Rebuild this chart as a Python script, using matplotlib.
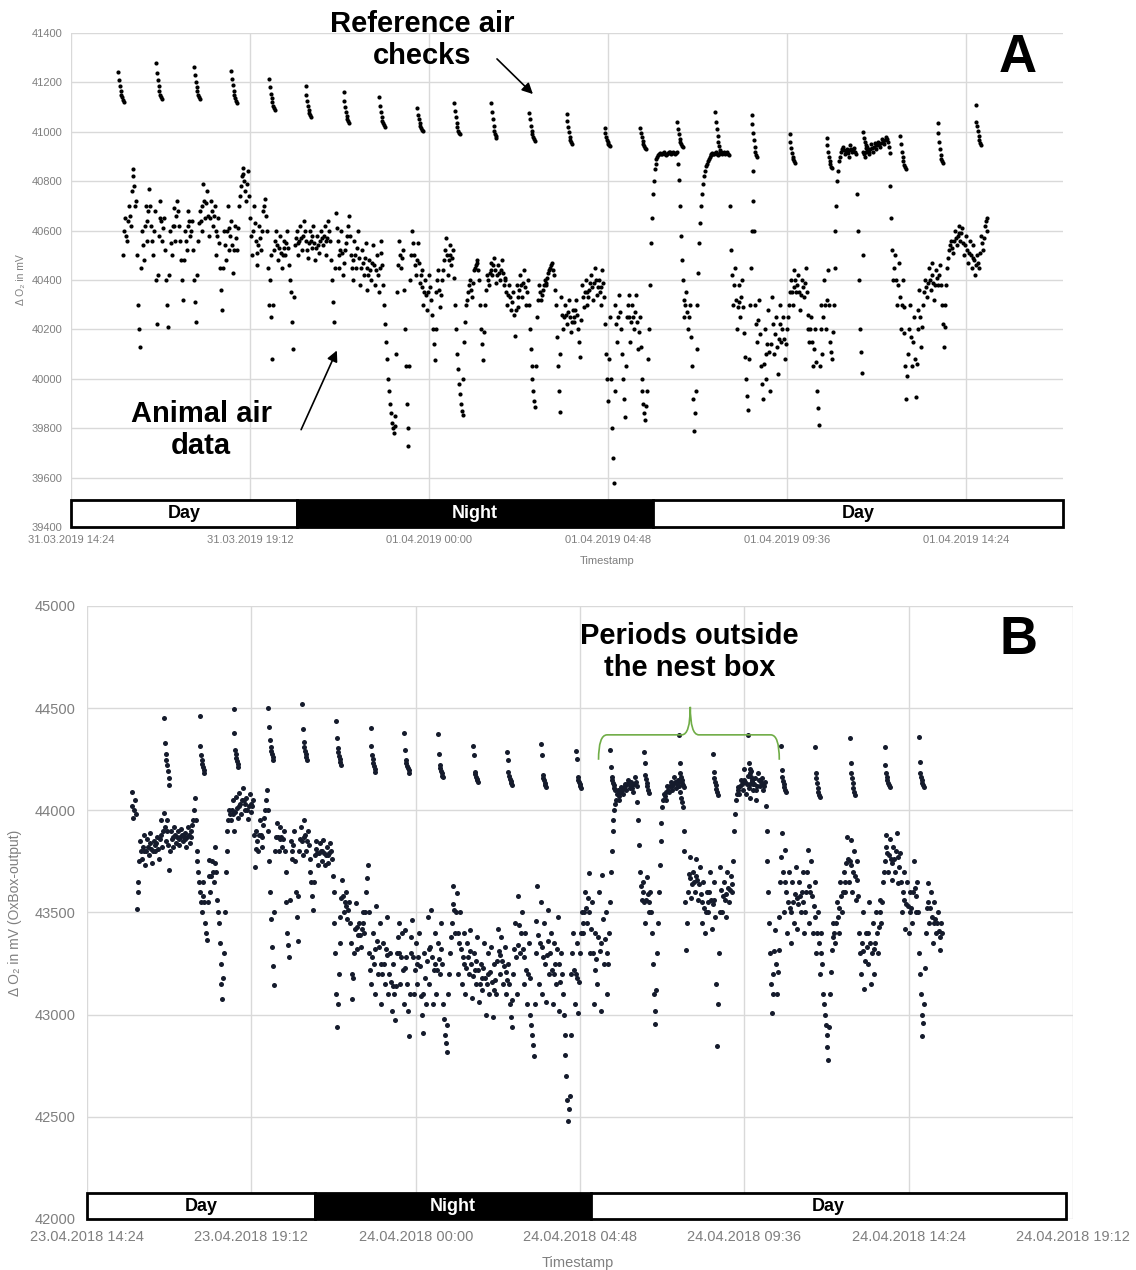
""" O2 traces of animal air vs reference air checks (panels A and B) """

import numpy as np
import matplotlib
matplotlib.use("Agg")
import matplotlib.pyplot as plt
import matplotlib.transforms as mtransforms
from matplotlib.patches import Rectangle, PathPatch
from matplotlib.path import Path

plt.rcParams['font.family'] = ['Liberation Sans', 'DejaVu Sans']

# ---------------- Panel A data (hours after 31.03.2019 14:24, mV) ----------------
a_animal_start = 1.40   # first sample, hours
a_animal_step = 0.05    # spacing of the digitised readings, hours
a_animal = [
    40500, 40650, 40560, 40700, 40620, 40850, 40780, 40720, 40300, 40130, 40600, 40480, 40700, 40560, 40770, 40620, 40500, 40680, 40220, 40580,
    40720, 40560, 40650, 40400, 40210, 40600, 40500, 40690, 40560, 40720, 40620, 40480, 40320, 40600, 40520, 40680, 40580, 40640, 40400, 40230,
    40560, 40680, 40600, 40790, 40650, 40760, 40580, 40720, 40620, 40700, 40500, 40650, 40450, 40280, 40600, 40480, 40700, 40520, 40640, 40430,
    40620, 40520, 40700, 40780, 40855, 40800, 40720, 40840, 40650, 40500, 40700, 40560, 40460, 40620, 40520, 40680, 40730, 40600, 40300, 40500,
    40080, 40520, 40600, 40480, 40580, 40450, 40560, 40500, 40600, 40460, 40350, 40120, 40540, 40600, 40500, 40620, 40520, 40640, 40560, 40490,
    40600, 40530, 40620, 40480, 40580, 40510, 40600, 40540, 40620, 40500, 40640, 40560, 40400, 40230, 40670, 40560, 40450, 40600, 40420, 40520,
    40580, 40660, 40500, 40400, 40560, 40450, 40600, 40380, 40520, 40420, 40550, 40360, 40480, 40400, 40540, 40380, 40500, 40350, 40560, 40460,
    40300, 40150, 40000, 39900, 39820, 39780, 39850, 40350, 40560, 40450, 40520, 40200, 39900, 39730, 40400, 40600, 40500, 40420, 40550, 40390,
    40440, 40300, 40400, 40280, 40420, 40320, 40200, 40075, 40350, 40440, 40290, 40400, 40480, 40570, 40420, 40540, 40460, 40520, 40300, 40100,
    39980, 39900, 39855, 40150, 40300, 40350, 40400, 40330, 40440, 40460, 40480, 40400, 40200, 40075, 40300, 40420, 40380, 40470, 40420, 40490,
    40390, 40460, 40400, 40480, 40380, 40410, 40300, 40380, 40280, 40350, 40175, 40380, 40290, 40420, 40330, 40440, 40300, 40400, 40200, 40050,
    39950, 39885, 40250, 40380, 40320, 40360, 40400, 40380, 40430, 40450, 40470, 40420, 40300, 40050, 39865, 40330, 40200, 40300, 40220, 40320,
    40190, 40280, 40230, 40320, 40200, 40090, 40380, 40290, 40400, 40300, 40360, 40420, 40320, 40450, 40340, 40400, 40300, 40440, 40330, 40100,
    39910, 40250, 39800, 39580, 40300, 40150, 40340, 40200, 40000, 39845, 40250, 40340, 40150, 40300, 40200, 40340, 40120, 40250, 40000, 39900,
    39835, 39950, 40200, 40550, 40750, 40850, 40890, 40905, 40915, 40910, 40920, 40905, 40915, 40920, 40910, 40918, 40912, 40920, 40805, 40580,
    40400, 40250, 40350, 40200, 40300, 40050, 39790, 39950, 40300, 40550, 40700, 40790, 40840, 40870, 40890, 40905, 40915, 40910, 40920, 40905,
    40918, 40910, 40920, 40912, 40920, 40905, 40520, 40300, 40450, 40200, 40380, 40250, 40400, 40185, 40000, 39875, 40300, 40600, 40840, 40300,
    40150, 40320, 40050, 39920, 40200, 40000, 40280, 39950, 40330, 40100, 40250, 40020, 40300, 40150, 40250, 40080, 40200, 40300, 40400, 40300,
    40440, 40350, 40420, 40280, 40400, 40330, 40450, 40260, 40150, 40250, 40050, 40200, 39950, 39815, 40300, 40100, 40400, 40200, 40440, 40150,
    40080, 40300, 40600, 40800, 40880, 40920, 40940, 40910, 40930, 40900, 40945, 40920, 40935, 40910, 40600, 40200, 40025, 40920, 40900, 40940,
    40910, 40950, 40920, 40955, 40930, 40960, 40940, 40970, 40950, 40980, 40960, 40915, 40650, 40400, 40500, 40300, 40470, 40200, 40400, 40185,
    39920, 40100, 40300, 40050, 40250, 39925, 40200, 40360, 40130, 40300, 40400, 40330, 40450, 40360, 40470, 40320, 40440, 40380, 40460, 40300,
    40130, 40300, 40450, 40520, 40560, 40510, 40600, 40540, 40620, 40560, 40610, 40500, 40580, 40470, 40560, 40450, 40540, 40420, 40500, 40450,
    40580, 40520, 40620, 40650,
]
# readings half a step later (start 1.425 h)
a_animal_half = [
    40600, 40580, 40640, 40660, 40760, 40820, 40700, 40500, 40200, 40450, 40540, 40620, 40640, 40680, 40700, 40560, 40600, 40400, 40420, 40650,
    40640, 40610, 40520, 40300, 40420, 40550, 40620, 40620, 40660, 40680, 40560, 40400, 40480, 40560, 40620, 40640, 40600, 40520, 40310, 40420,
    40630, 40640, 40700, 40720, 40710, 40660, 40650, 40680, 40660, 40600, 40580, 40550, 40360, 40450, 40540, 40600, 40610, 40580, 40540, 40520,
    40570, 40610, 40740, 40820, 40830, 40760, 40790, 40740, 40580, 40600, 40630, 40510, 40540, 40570, 40600, 40700, 40660, 40450, 40400, 40250,
    40300, 40560, 40540, 40530, 40510, 40500, 40530, 40550, 40530, 40400, 40230, 40330, 40570, 40550, 40560, 40570, 40580, 40600, 40520, 40550,
    40560, 40580, 40550, 40530, 40540, 40560, 40570, 40580, 40560, 40570, 40600, 40480, 40310, 40450, 40610, 40500, 40520, 40510, 40470, 40550,
    40620, 40580, 40450, 40480, 40500, 40530, 40490, 40450, 40470, 40490, 40450, 40420, 40440, 40470, 40460, 40440, 40420, 40450, 40510, 40380,
    40220, 40080, 39950, 39860, 39800, 39810, 40100, 40460, 40500, 40490, 40360, 40050, 39800, 40050, 40500, 40550, 40460, 40480, 40470, 40420,
    40370, 40350, 40340, 40350, 40370, 40260, 40140, 40200, 40400, 40360, 40340, 40440, 40520, 40500, 40480, 40500, 40490, 40410, 40200, 40040,
    39940, 39870, 40000, 40230, 40320, 40380, 40360, 40390, 40450, 40470, 40440, 40300, 40140, 40190, 40360, 40400, 40430, 40440, 40460, 40440,
    40420, 40430, 40440, 40430, 40400, 40350, 40340, 40330, 40310, 40260, 40280, 40330, 40360, 40380, 40390, 40370, 40350, 40300, 40120, 40000,
    39910, 40050, 40320, 40350, 40340, 40380, 40390, 40410, 40440, 40460, 40440, 40360, 40170, 39950, 40100, 40260, 40250, 40260, 40270, 40250,
    40230, 40250, 40280, 40260, 40150, 40240, 40330, 40350, 40350, 40330, 40390, 40370, 40390, 40400, 40370, 40350, 40370, 40390, 40220, 40000,
    40080, 40000, 39680, 39950, 40220, 40250, 40270, 40100, 39920, 40050, 40300, 40250, 40230, 40250, 40270, 40230, 40190, 40130, 39950, 39860,
    39890, 40080, 40380, 40650, 40800, 40870, 40900, 40910, 40912, 40915, 40912, 40910, 40918, 40915, 40914, 40915, 40916, 40870, 40700, 40480,
    40320, 40300, 40270, 40250, 40170, 39920, 39860, 40120, 40430, 40630, 40750, 40820, 40860, 40880, 40900, 40910, 40912, 40915, 40912, 40912,
    40914, 40915, 40916, 40916, 40912, 40700, 40420, 40380, 40320, 40290, 40310, 40330, 40290, 40090, 39930, 40080, 40450, 40720, 40600, 40220,
    40240, 40180, 39980, 40060, 40100, 40140, 40110, 40140, 40220, 40180, 40130, 40160, 40220, 40200, 40160, 40140, 40250, 40350, 40350, 40370,
    40400, 40380, 40350, 40340, 40370, 40390, 40350, 40200, 40200, 40150, 40120, 40070, 39880, 40050, 40200, 40250, 40300, 40320, 40300, 40110,
    40190, 40450, 40700, 40840, 40900, 40930, 40925, 40920, 40915, 40925, 40930, 40928, 40920, 40750, 40400, 40110, 40500, 40910, 40920, 40925,
    40930, 40935, 40940, 40945, 40945, 40950, 40955, 40960, 40965, 40970, 40940, 40780, 40520, 40450, 40400, 40380, 40330, 40300, 40290, 40050,
    40010, 40200, 40170, 40150, 40080, 40060, 40280, 40250, 40210, 40350, 40370, 40390, 40400, 40420, 40390, 40380, 40410, 40420, 40380, 40220,
    40210, 40380, 40490, 40540, 40530, 40560, 40570, 40580, 40590, 40590, 40550, 40540, 40520, 40510, 40500, 40490, 40480, 40460, 40470, 40510,
    40550, 40570, 40640, 40600,
]

# start of each hourly reference air check (hours) and its readings
a_check_start = [1.27, 2.29, 3.31, 4.30, 5.32, 6.29, 7.31, 8.27, 9.29, 10.28, 11.27, 12.29,
                 13.29, 14.31, 15.27, 16.26, 17.28, 18.25, 19.27, 20.26, 21.25, 22.24, 23.24, 24.26]
a_checks = [
    [41242, 41210, 41185, 41165, 41150, 41140, 41130, 41120],
    [41278, 41240, 41210, 41185, 41165, 41150, 41140, 41133],
    [41262, 41230, 41200, 41180, 41165, 41150, 41140, 41133],
    [41246, 41215, 41190, 41165, 41150, 41135, 41125, 41117],
    [41214, 41180, 41155, 41135, 41120, 41105, 41095, 41088],
    [41185, 41150, 41125, 41105, 41090, 41078, 41068, 41060],
    [41161, 41125, 41100, 41080, 41065, 41052, 41043, 41036],
    [41141, 41105, 41080, 41060, 41045, 41035, 41027, 41020],
    [41096, 41070, 41050, 41035, 41025, 41015, 41008, 41003],
    [41117, 41085, 41060, 41035, 41018, 41005, 40997, 40991],
    [41117, 41080, 41050, 41025, 41005, 40992, 40982, 40975],
    [41076, 41050, 41025, 41005, 40990, 40978, 40969, 40963],
    [41072, 41045, 41020, 40998, 40980, 40967, 40957, 40950],
    [41015, 40995, 40980, 40968, 40958, 40950, 40946, 40942],
    [41015, 40995, 40978, 40963, 40952, 40943, 40936, 40930],
    [41040, 41010, 40990, 40972, 40960, 40950, 40943, 40938],
    [41080, 41040, 41010, 40985, 40960, 40942, 40928, 40918],
    [41068, 41030, 40995, 40965, 40940, 40920, 40906, 40898],
    [40991, 40960, 40935, 40915, 40900, 40890, 40880, 40874],
    [40975, 40945, 40920, 40898, 40880, 40868, 40859, 40853],
    [41000, 40975, 40960, 40945, 40935, 40930, 40925, 40920],
    [40983, 40950, 40920, 40897, 40880, 40866, 40856, 40849],
    [41036, 40995, 40960, 40930, 40905, 40888, 40880, 40874],
    [41108, 41040, 41025, 41005, 40985, 40968, 40955, 40947],
]

a_tick_labels = ["31.03.2019 14:24", "31.03.2019 19:12", "01.04.2019 00:00",
                 "01.04.2019 04:48", "01.04.2019 09:36", "01.04.2019 14:24"]
a_phases = [(0.0, 6.06, "Day"), (6.06, 15.61, "Night"), (15.61, 26.6, "Day")]

# ---------------- Panel B data (hours after 23.04.2018 14:24, mV) ----------------
b_animal_start = 1.30
b_animal_step = 0.05
b_animal = [
    44090, 43960, 44050, 43519, 43650, 43850, 43760, 43880, 43730, 43860, 43780, 43890, 43740, 43850, 43800, 43870, 43760, 43950, 43820, 43988,
    43850, 43950, 43710, 43900, 43820, 43920, 43840, 43900, 43830, 43910, 43850, 43890, 43820, 43920, 43840, 43900, 43950, 44061, 43800, 43700,
    43600, 43500, 43650, 43450, 43367, 43758, 43600, 43750, 43650, 43822, 43560, 43450, 43250, 43074, 43300, 43700, 43900, 44000, 43950, 44052,
    43900, 44066, 43960, 44085, 43980, 44110, 44000, 44060, 43955, 44080, 43990, 44050, 43724, 43900, 43800, 43950, 43820, 43930, 44000, 44100,
    43900, 43600, 43333, 43147, 43800, 43939, 43800, 43920, 43820, 43900, 43700, 43400, 43280, 43850, 43760, 43900, 43600, 43358, 43800, 43920,
    43780, 43954, 43800, 43900, 43760, 43650, 43514, 43780, 43850, 43730, 43840, 43750, 43856, 43730, 43820, 43740, 43840, 43760, 43600, 43300,
    42937, 43200, 43480, 43661, 43500, 43600, 43470, 43550, 43350, 43074, 43300, 43548, 43320, 43450, 43330, 43500, 43400, 43600, 43734, 43300,
    43150, 43400, 43100, 43530, 43200, 43450, 43050, 43350, 43150, 43480, 43100, 43300, 43020, 43250, 42976, 43300, 43450, 43150, 43400, 43050,
    43416, 43150, 42893, 43300, 43465, 43100, 43350, 43150, 43400, 43090, 42912, 43300, 43050, 43480, 43150, 43514, 43050, 43400, 43100, 43350,
    43200, 43450, 43050, 42900, 42815, 43100, 43300, 43450, 43627, 43400, 43597, 43200, 43500, 43150, 43400, 43100, 43350, 43200, 43416, 43080,
    43300, 43150, 43380, 43060, 43250, 43120, 43350, 43000, 43300, 43100, 43333, 42990, 43250, 43100, 43420, 43200, 43380, 43150, 43330, 43100,
    43250, 43050, 42937, 43200, 43450, 43100, 43578, 43300, 43500, 43150, 43400, 43050, 43350, 43000, 42900, 42795, 43300, 43627, 43150, 43550,
    43100, 43450, 43060, 43514, 43200, 43400, 43050, 43350, 43150, 43480, 43020, 43300, 43100, 42900, 42700, 42478, 42600, 43200, 43400, 43050,
    43350, 43010, 43300, 43500, 43400, 43600, 43450, 43695, 43300, 43550, 43050, 43400, 43150, 43600, 43020, 43685, 43250, 43500, 43100, 43400,
    43700, 43900, 44000, 44050, 44100, 44050, 44115, 44080, 44130, 44100, 44150, 44110, 44140, 44090, 44164, 44120, 43954, 43700, 43563, 43650,
    43450, 43675, 43500, 43600, 43400, 43100, 42952, 43300, 43600, 43850, 44017, 44080, 44052, 44120, 44090, 44140, 44100, 44164, 44110, 44150,
    44120, 44060, 44017, 43800, 43318, 43600, 43773, 43570, 43700, 43600, 43760, 43563, 43724, 43450, 43650, 43400, 43600, 43500, 43700, 43420,
    43650, 43480, 42844, 43300, 43724, 43500, 43650, 43480, 43700, 43550, 43680, 43600, 43900, 44050, 44115, 44080, 44150, 44100, 44200, 44080,
    44170, 44060, 44190, 44100, 44160, 44052, 44180, 44120, 44160, 44100, 44140, 43900, 43600, 43300, 43010, 43200, 43416, 43100, 43318, 43650,
    43890, 43500, 43807, 43400, 43700, 43350, 43650, 43450, 43724, 43420, 43650, 43500, 43700, 43400, 43600, 43807, 43450, 43750, 43400, 43650,
    43300, 43500, 43200, 43400, 43100, 43000, 42900, 42780, 43100, 43318, 43450, 43350, 43550, 43400, 43650, 43500, 43700, 43600, 43871, 43650,
    43856, 43600, 43800, 43563, 43750, 43400, 43200, 43500, 43123, 43400, 43250, 43550, 43150, 43450, 43200, 43500, 43300, 43563, 43450, 43650,
    43750, 43880, 43700, 43860, 43660, 43820, 43700, 43890, 43646, 43793, 43500, 43700, 43420, 43650, 43400, 43600, 43450, 43750, 43500, 43650,
    43300, 43100, 42893, 43050, 43400, 43646, 43450, 43600, 43350, 43550, 43400, 43500, 43318, 43450,
]
# readings half a step later (start 1.325 h)
b_animal_half = [
    44020, 44000, 43980, 43600, 43750, 43800, 43820, 43800, 43800, 43820, 43840, 43810, 43800, 43830, 43840, 43810, 43860, 43880, 43900, 43920,
    43900, 43830, 43800, 43860, 43870, 43880, 43870, 43860, 43870, 43880, 43870, 43860, 43870, 43880, 43870, 43930, 44000, 43950, 43750, 43650,
    43550, 43580, 43550, 43400, 43550, 43680, 43680, 43700, 43740, 43700, 43500, 43350, 43150, 43180, 43500, 43800, 43950, 43980, 44000, 43980,
    43990, 44010, 44020, 44030, 44050, 44050, 44030, 44000, 44020, 44030, 44020, 43880, 43810, 43850, 43880, 43880, 43870, 43960, 44050, 44000,
    43750, 43470, 43240, 43500, 43870, 43870, 43860, 43870, 43860, 43800, 43550, 43340, 43560, 43800, 43830, 43750, 43480, 43580, 43860, 43850,
    43870, 43880, 43850, 43830, 43700, 43580, 43650, 43810, 43790, 43790, 43800, 43800, 43790, 43780, 43780, 43790, 43800, 43680, 43450, 43100,
    43050, 43350, 43570, 43580, 43550, 43530, 43510, 43450, 43200, 43180, 43420, 43430, 43390, 43390, 43420, 43450, 43500, 43670, 43500, 43220,
    43280, 43250, 43320, 43360, 43330, 43250, 43200, 43250, 43320, 43290, 43200, 43160, 43140, 43100, 43140, 43380, 43300, 43280, 43220, 43230,
    43280, 43020, 43100, 43380, 43280, 43220, 43250, 43280, 43240, 43000, 43100, 43180, 43260, 43320, 43330, 43280, 43220, 43250, 43220, 43270,
    43320, 43250, 42980, 42860, 42950, 43200, 43380, 43540, 43510, 43500, 43400, 43350, 43320, 43280, 43250, 43230, 43280, 43310, 43250, 43190,
    43220, 43260, 43220, 43150, 43180, 43230, 43180, 43150, 43200, 43210, 43160, 43120, 43170, 43260, 43310, 43290, 43260, 43240, 43210, 43170,
    43150, 42990, 43070, 43320, 43280, 43340, 43440, 43400, 43320, 43280, 43220, 43200, 43180, 42950, 42850, 43050, 43460, 43390, 43350, 43330,
    43280, 43250, 43290, 43360, 43300, 43220, 43200, 43250, 43320, 43250, 43160, 43200, 43000, 42800, 42580, 42540, 42900, 43300, 43220, 43200,
    43180, 43160, 43400, 43450, 43500, 43520, 43570, 43500, 43420, 43300, 43220, 43270, 43380, 43310, 43350, 43470, 43370, 43300, 43250, 43550,
    43800, 43950, 44030, 44080, 44070, 44090, 44100, 44110, 44120, 44130, 44130, 44120, 44110, 44130, 44140, 44040, 43830, 43630, 43600, 43550,
    43560, 43590, 43550, 43500, 43250, 43020, 43120, 43450, 43730, 43940, 44050, 44070, 44090, 44100, 44120, 44120, 44130, 44140, 44130, 44140,
    44090, 44040, 43900, 43550, 43450, 43690, 43670, 43640, 43650, 43680, 43660, 43640, 43590, 43550, 43520, 43500, 43550, 43600, 43560, 43540,
    43560, 43150, 43050, 43500, 43610, 43580, 43560, 43590, 43620, 43610, 43640, 43750, 43980, 44080, 44100, 44120, 44130, 44150, 44140, 44130,
    44110, 44130, 44140, 44130, 44100, 44120, 44150, 44140, 44130, 44120, 44020, 43750, 43450, 43150, 43100, 43310, 43250, 43210, 43480, 43770,
    43700, 43650, 43600, 43550, 43520, 43500, 43550, 43590, 43570, 43540, 43580, 43600, 43550, 43500, 43700, 43630, 43600, 43580, 43530, 43480,
    43400, 43350, 43300, 43250, 43050, 42950, 42840, 42940, 43210, 43380, 43400, 43450, 43480, 43520, 43580, 43600, 43650, 43740, 43760, 43750,
    43730, 43700, 43680, 43660, 43580, 43300, 43350, 43310, 43260, 43330, 43400, 43350, 43300, 43320, 43350, 43400, 43430, 43500, 43550, 43700,
    43820, 43790, 43780, 43760, 43740, 43760, 43800, 43770, 43720, 43650, 43600, 43560, 43540, 43530, 43500, 43520, 43600, 43620, 43580, 43500,
    43200, 43000, 42960, 43230, 43520, 43550, 43520, 43480, 43450, 43470, 43450, 43410, 43380, 43400,
]

b_check_start = [2.26, 3.29, 4.28, 5.30, 6.29, 7.28, 8.28, 9.27, 10.26, 11.28, 12.27, 13.27,
                 14.29, 15.28, 16.27, 17.29, 18.28, 19.31, 20.27, 21.26, 22.28, 23.30, 24.30]
b_checks = [
    [44453, 44330, 44277, 44247, 44220, 44190, 44160, 44125],
    [44462, 44316, 44272, 44247, 44225, 44210, 44195, 44184],
    [44497, 44379, 44296, 44275, 44255, 44240, 44225, 44213],
    [44501, 44409, 44345, 44311, 44290, 44275, 44260, 44247],
    [44521, 44399, 44335, 44310, 44290, 44275, 44260, 44247],
    [44438, 44355, 44306, 44285, 44265, 44250, 44235, 44223],
    [44404, 44316, 44272, 44250, 44230, 44215, 44200, 44189],
    [44379, 44296, 44247, 44230, 44215, 44205, 44195, 44184],
    [44374, 44277, 44223, 44205, 44190, 44180, 44170, 44164],
    [44316, 44272, 44189, 44175, 44165, 44155, 44147, 44140],
    [44286, 44247, 44189, 44170, 44155, 44145, 44135, 44125],
    [44325, 44272, 44174, 44160, 44148, 44135, 44125, 44115],
    [44291, 44252, 44164, 44150, 44138, 44128, 44118, 44110],
    [44296, 44213, 44164, 44150, 44135, 44122, 44110, 44100],
    [44286, 44233, 44174, 44155, 44135, 44118, 44100, 44086],
    [44369, 44233, 44184, 44165, 44148, 44135, 44125, 44115],
    [44277, 44189, 44159, 44140, 44122, 44105, 44090, 44076],
    [44369, 44233, 44200, 44180, 44165, 44150, 44140, 44130],
    [44316, 44198, 44164, 44145, 44128, 44112, 44100, 44091],
    [44311, 44184, 44160, 44135, 44110, 44090, 44075, 44066],
    [44355, 44233, 44184, 44160, 44135, 44110, 44090, 44076],
    [44311, 44223, 44184, 44165, 44148, 44135, 44125, 44115],
    [44360, 44237, 44184, 44165, 44148, 44135, 44125, 44115],
]

b_tick_labels = ["23.04.2018 14:24", "23.04.2018 19:12", "24.04.2018 00:00", "24.04.2018 04:48",
                 "24.04.2018 09:36", "24.04.2018 14:24", "24.04.2018 19:12"]
b_phases = [(0.0, 6.65, "Day"), (6.65, 14.71, "Night"), (14.71, 28.6, "Day")]

check_step = 0.02  # hours between readings within one air check
GRAY = '#7f7f7f'


def style_axes(ax, xmax, tick_labels, ylim, ystep, fs, pad):
    ax.set_xlim(0, xmax)
    ax.set_ylim(*ylim)
    ax.set_xticks(np.arange(len(tick_labels)) * 4.8)
    ax.set_xticklabels(tick_labels)
    ax.set_yticks(np.arange(ylim[0], ylim[1] + 1, ystep))
    for s in ax.spines.values():
        s.set_visible(False)
    ax.grid(True, color='#d9d9d9', lw=1)
    ax.set_axisbelow(True)
    ax.tick_params(length=0, colors=GRAY, labelsize=fs, pad=pad)


def day_night_bar(ax, phases, height, fs):
    trans = mtransforms.blended_transform_factory(ax.transData, ax.transAxes)
    for x0, x1, name in phases:
        night = name == "Night"
        ax.add_patch(Rectangle((x0, 0), x1 - x0, height, transform=trans,
                               facecolor='black' if night else 'white',
                               edgecolor='black', lw=2, zorder=5, clip_on=False))
        ax.text((x0 + x1) / 2, height / 2, name, transform=trans, ha='center', va='center',
                fontsize=fs, fontweight='bold', color='white' if night else 'black', zorder=6)


def plot_trace(ax, start, step, vals, vals_half, color, size):
    t = start + step * np.arange(len(vals))
    t_half = start + step / 2 + step * np.arange(len(vals_half))
    ax.scatter(t, vals, s=size, color=color, linewidths=0, zorder=3)
    ax.scatter(t_half, vals_half, s=size, color=color, linewidths=0, zorder=3)


def plot_checks(ax, starts, checks, color, size):
    for t0, vals in zip(starts, checks):
        t = t0 + check_step * np.arange(len(vals))
        ax.scatter(t, vals, s=size, color=color, linewidths=0, zorder=3)


fig = plt.figure(figsize=(11.36, 12.70), dpi=100)

# ---------------- Panel A ----------------
ax_a = fig.add_axes([0.0625, 0.585, 0.8732, 0.389])
plot_trace(ax_a, a_animal_start, a_animal_step, a_animal, a_animal_half, 'black', 9)
plot_checks(ax_a, a_check_start, a_checks, 'black', 9)
style_axes(ax_a, 26.6, a_tick_labels, (39400, 41400), 200, 8, 6)
ax_a.set_xlabel("Timestamp", color=GRAY, fontsize=8)
ax_a.xaxis.set_label_coords(0.54, -0.058)
ax_a.set_ylabel("Δ O₂ in mV", color=GRAY, fontsize=7.5)
ax_a.yaxis.set_label_coords(-0.045, 0.5)
day_night_bar(ax_a, a_phases, 0.0547, 13)

ax_a.text(9.41, 41372, "Reference air\nchecks", ha='center', va='center',
          fontsize=21, fontweight='bold', linespacing=1.15)
ax_a.annotate('', xy=(12.44, 41145), xytext=(11.37, 41303),
              arrowprops=dict(arrowstyle='-|>', color='black', lw=1.2, mutation_scale=16))
ax_a.text(3.49, 39793, "Animal air\ndata", ha='center', va='center',
          fontsize=21, fontweight='bold', linespacing=1.15)
ax_a.annotate('', xy=(7.16, 40125), xytext=(6.14, 39784),
              arrowprops=dict(arrowstyle='-|>', color='black', lw=1.2, mutation_scale=16))
ax_a.text(25.4, 41299, "A", ha='center', va='center', fontsize=38, fontweight='bold')

# ---------------- Panel B ----------------
ax_b = fig.add_axes([0.0766, 0.0402, 0.868, 0.4827])
plot_trace(ax_b, b_animal_start, b_animal_step, b_animal, b_animal_half, '#151b2c', 13)
plot_checks(ax_b, b_check_start, b_checks, '#151b2c', 13)
style_axes(ax_b, 28.8, b_tick_labels, (42000, 45000), 500, 10.5, 8)
ax_b.set_xlabel("Timestamp", color=GRAY, fontsize=10.5)
ax_b.xaxis.set_label_coords(0.498, -0.060)
ax_b.set_ylabel("Δ O₂ in mV (OxBox-output)", color=GRAY, fontsize=10)
ax_b.yaxis.set_label_coords(-0.066, 0.5)
day_night_bar(ax_b, b_phases, 0.042, 13)

ax_b.text(17.6, 44775, "Periods outside\nthe nest box", ha='center', va='center',
          fontsize=21, fontweight='bold', linespacing=1.15)
ax_b.text(27.22, 44834, "B", ha='center', va='center', fontsize=38, fontweight='bold')

# curly brace over the periods outside the nest box
bx0, bxm, bx1 = 14.94, 17.62, 20.22
by_end, by_mid, by_peak = 44247, 44369, 44506
verts = [(bx0, by_end), (bx0, by_mid), (bx0 + 0.25, by_mid),
         (bxm - 0.25, by_mid), (bxm, by_mid), (bxm, by_peak),
         (bxm, by_mid), (bxm + 0.25, by_mid),
         (bx1 - 0.25, by_mid), (bx1, by_mid), (bx1, by_end)]
codes = [Path.MOVETO, Path.CURVE3, Path.CURVE3,
         Path.LINETO, Path.CURVE3, Path.CURVE3,
         Path.CURVE3, Path.CURVE3,
         Path.LINETO, Path.CURVE3, Path.CURVE3]
ax_b.add_patch(PathPatch(Path(verts, codes), facecolor='none', edgecolor='#70ad47', lw=1.2, zorder=4))

fig.savefig("out.png", dpi=100)
